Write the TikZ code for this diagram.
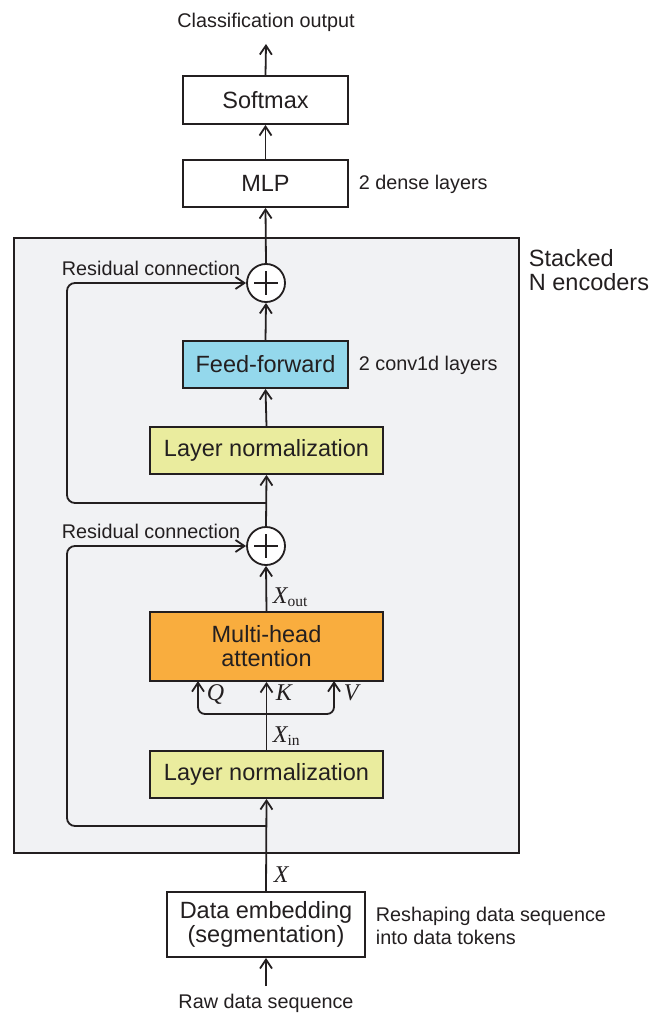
\documentclass[tikz,border=0pt]{standalone}
\usepackage{fontspec}
\setmainfont{Liberation Sans}
\newfontfamily\serifmath{Liberation Serif}
\usetikzlibrary{arrows.meta,calc}
\definecolor{ink}{HTML}{231F20}
\definecolor{encbg}{HTML}{F1F2F4}
\definecolor{ffcol}{HTML}{94D8EC}
\definecolor{lncol}{HTML}{EAEC9E}
\definecolor{mhacol}{HTML}{F9AD3E}
\newcommand{\smallfs}{\fontsize{19.8}{23}\selectfont}
\newcommand{\bigfs}{\fontsize{23.5}{24}\selectfont}
\newcommand{\mv}[2]{{\serifmath\fontsize{24}{24}\selectfont\itshape #1}{\serifmath\fontsize{15.5}{16}\selectfont\raisebox{-3pt}{#2}}}
\begin{document}
\begin{tikzpicture}[x=1pt,y=-1pt,
  line width=1.8pt, draw=ink,
  arr/.style={-{Straight Barb[length=9pt,width=12pt,line width=1.8pt]}, draw=ink},
  blk/.style={draw=ink, line width=1.8pt, minimum height=47pt, inner sep=0pt, font=\bigfs, text=ink, align=center},
  lbl/.style={font=\smallfs, text=ink, inner sep=0pt},
  plus/.style={circle, draw=ink, fill=white, line width=1.8pt, minimum size=38pt, inner sep=0pt},
  mlab/.style={inner sep=0pt, text=ink, anchor=west}]
\useasboundingbox (0,0) rectangle (649,1016);
% encoder background
\fill[encbg] (14,238) rectangle (519,853);
\draw[ink, line width=1.8pt] (14,238) rectangle (519,853);
\node[lbl, font=\bigfs, anchor=west, align=left] (stk) at (528,270) {Stacked\\N encoders};

% blocks
\node[blk, minimum width=165pt, minimum height=48pt, fill=white] (soft) at (265.5,100) {Softmax};
\node[blk, minimum width=165pt, fill=white] (mlp) at (265.5,183.5) {MLP};
\node[blk, minimum width=165pt, fill=ffcol] (ff) at (265.5,364.5) {Feed-forward};
\node[blk, minimum width=233pt, fill=lncol] (ln1) at (266.5,450.5) {Layer normalization};
\node[blk, minimum width=233pt, minimum height=69pt, fill=mhacol] (mha) at (266.5,646.5) {Multi-head\\attention};
\node[blk, minimum width=198pt, minimum height=65pt, fill=white] (emb) at (266,924.5) {Data embedding\\(segmentation)};
\node[blk, minimum width=233pt, fill=lncol] (ln2) at (266.5,774.5) {Layer normalization};

\node[plus] (p1) at (266,283) {};
\node[plus] (p2) at (266,546) {};
\foreach \p in {p1,p2}{
  \draw[ink] ($(\p.center)+(-12,0)$) -- ($(\p.center)+(12,0)$);
  \draw[ink] ($(\p.center)+(0,-12)$) -- ($(\p.center)+(0,12)$);
}

% labels
\node[lbl] (cls) at (266,22) {Classification output};
\node[lbl] (raw) at (266,1003) {Raw data sequence};
\node[lbl, anchor=west] (dense) at (358,184) {2 dense layers};
\node[lbl, anchor=west] (conv) at (358,365) {2 conv1d layers};
\node[lbl, anchor=west] (res1) at (61,268) {Residual connection};
\node[lbl, anchor=west] (res2) at (61,531) {Residual connection};
\node[lbl, anchor=west, align=left] (resh) at (375,926) {Reshaping data sequence\\into data tokens};
\node[mlab] (xout) at (272,597) {\mv{X}{out}};
\node[mlab] (xin) at (272,736) {\mv{X}{in}};
\node[mlab] (xx) at (273,876) {\mv{X}{}};
\node[mlab] (q) at (206,694) {\mv{Q}{}};
\node[mlab] (k) at (275,694) {\mv{K}{}};
\node[mlab] (v) at (343,694) {\mv{V}{}};

% coordinates
\coordinate (j2) at (266,826);
\coordinate (j1) at (266,503);
\coordinate (kj) at (266,714);
\coordinate (qt) at (198,681);
\coordinate (vt) at (334,681);
\coordinate (l2) at (67,546);
\coordinate (l1) at (67,283);
\coordinate (rawtop) at (266,986);
\coordinate (clsbot) at (266,44);

% connectors
\draw[arr] (rawtop) -- (emb.south);
\draw[arr] (emb.north) -- (ln2.south);
\draw[arr] (ln2.north) -- (mha.south);
\draw[arr, rounded corners=7pt] (kj) -| (qt);
\draw[arr, rounded corners=7pt] (kj) -| (vt);
\draw[arr] (mha.north) -- (p2.south);
\draw[arr, rounded corners=8pt] (j2) -| (l2) -- (p2.west);
\draw[arr] (p2.north) -- (ln1.south);
\draw[arr] (ln1.north) -- (ff.south);
\draw[arr] (ff.north) -- (p1.south);
\draw[arr, rounded corners=8pt] (j1) -| (l1) -- (p1.west);
\draw[arr] (p1.north) -- (mlp.south);
\draw[arr] (mlp.north) -- (soft.south);
\draw[arr] (soft.north) -- (clsbot);
\end{tikzpicture}
\end{document}
